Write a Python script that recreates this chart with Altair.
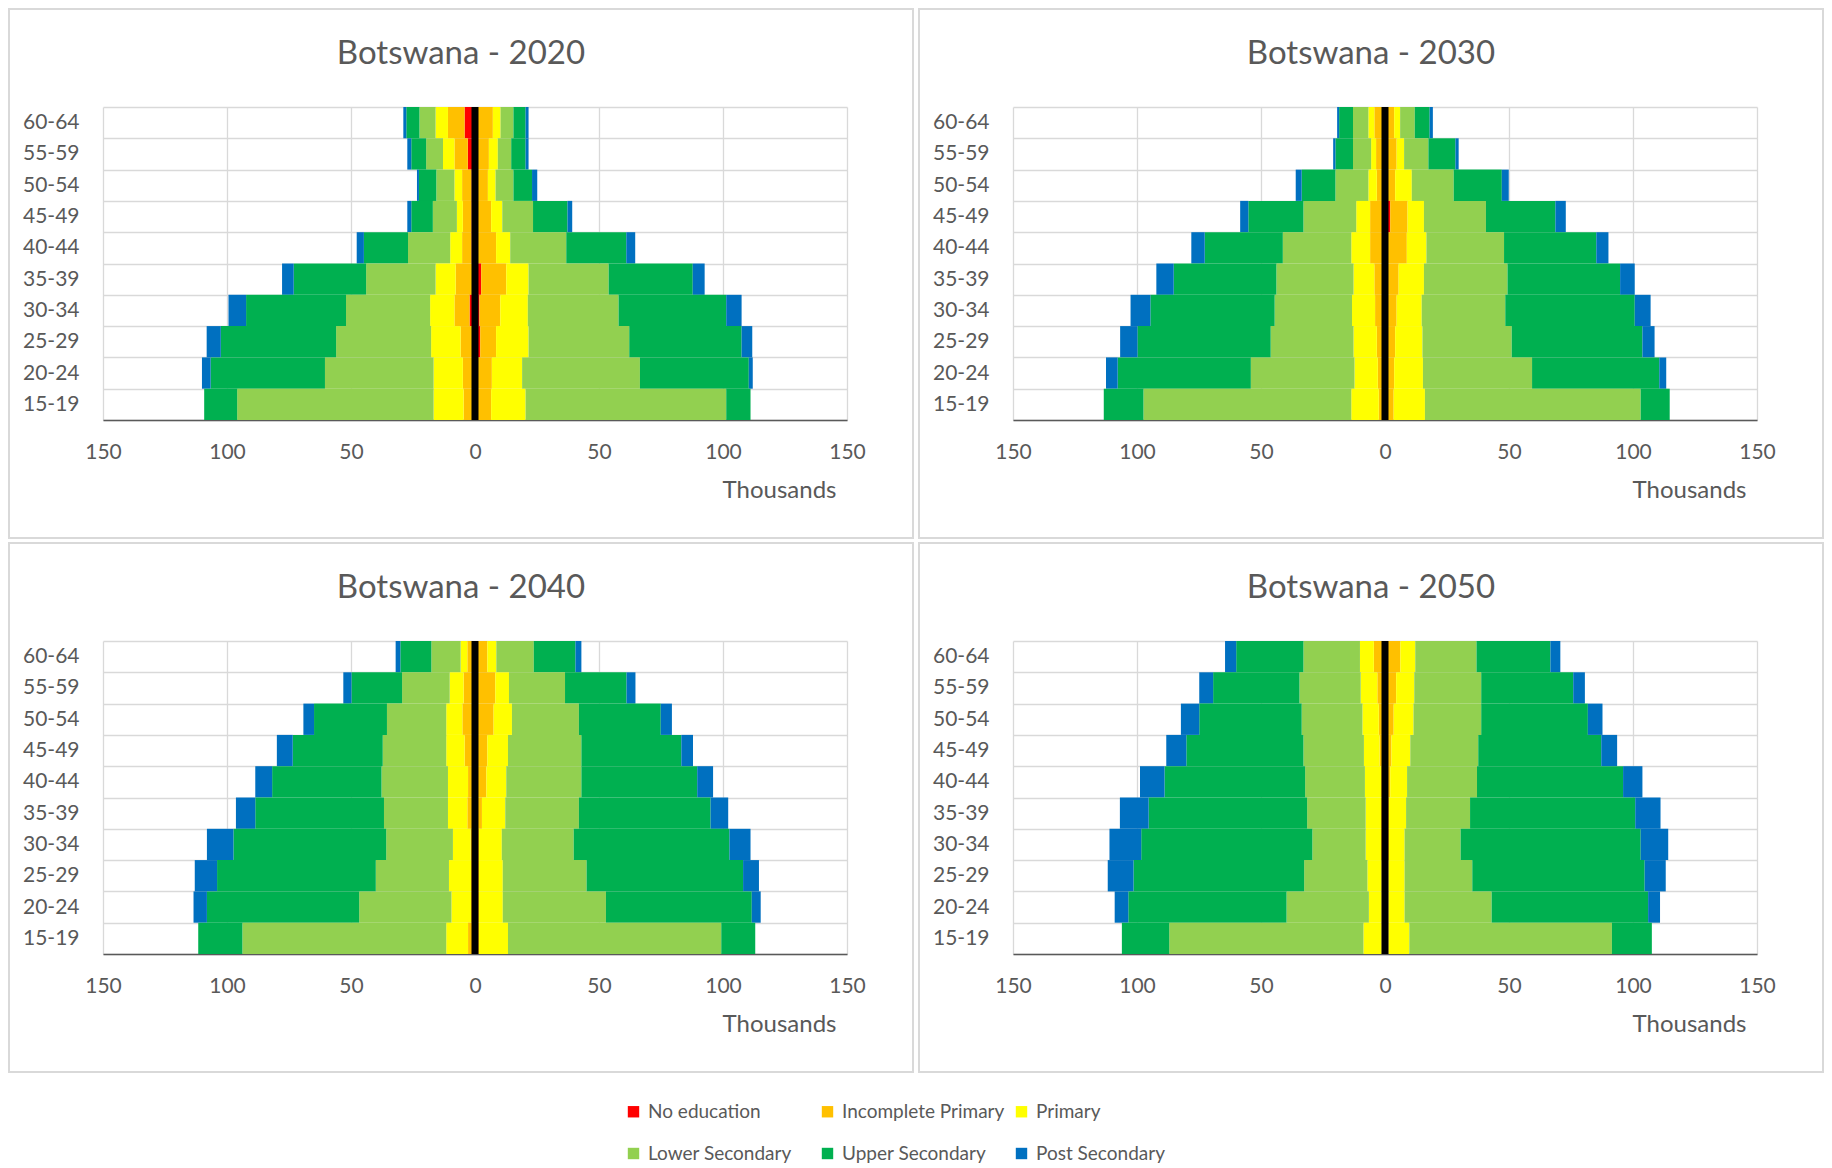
import altair as alt
import pandas as pd

AGES = ["60-64", "55-59", "50-54", "45-49", "40-44", "35-39", "30-34", "25-29", "20-24", "15-19"]
LEVELS = ["No education", "Incomplete Primary", "Primary", "Lower Secondary", "Upper Secondary", "Post Secondary"]
COLORS = ["#FF0000", "#FFC000", "#FFFF00", "#92D050", "#00B050", "#0070C0"]
YEARS = [2020, 2030, 2040, 2050]
TICKS = [-150, -100, -50, 0, 50, 100, 150]

# thousands, rows follow AGES, columns follow LEVELS
MALE_2020 = [
    [4.2, 6.7, 5.0, 6.5, 5.3, 1.2],
    [2.9, 5.4, 4.6, 6.8, 6.0, 1.6],
    [1.4, 3.8, 3.1, 7.3, 7.0, 0.8],
    [1.4, 3.5, 2.4, 9.7, 8.7, 1.6],
    [1.4, 3.8, 4.8, 17.0, 17.8, 2.9],
    [1.2, 6.6, 8.1, 28.0, 29.2, 4.7],
    [2.2, 6.1, 9.8, 33.9, 40.3, 7.1],
    [1.2, 4.6, 11.9, 38.3, 46.5, 5.7],
    [1.2, 3.7, 11.8, 43.8, 46.1, 3.5],
    [1.0, 3.6, 12.1, 79.2, 13.3, 0.0],
]
FEMALE_2020 = [
    [0.8, 6.4, 3.1, 5.2, 4.9, 1.2],
    [0.8, 4.8, 3.6, 5.4, 5.8, 1.2],
    [0.8, 4.4, 3.1, 7.2, 7.5, 2.1],
    [0.8, 5.7, 4.5, 12.4, 13.9, 1.9],
    [0.8, 7.7, 5.7, 22.6, 24.2, 3.6],
    [2.5, 10.1, 9.0, 32.3, 33.9, 4.8],
    [1.8, 8.4, 11.1, 36.6, 43.4, 6.2],
    [2.1, 6.4, 13.1, 40.6, 45.3, 4.3],
    [1.0, 5.8, 12.2, 47.5, 43.9, 1.6],
    [1.0, 5.5, 13.9, 80.9, 9.8, 0.0],
]
MALE_2030 = [
    [1.0, 3.3, 2.4, 6.2, 5.6, 0.8],
    [0.8, 2.8, 2.0, 7.3, 7.1, 0.9],
    [0.8, 2.5, 3.4, 13.3, 13.6, 2.4],
    [1.0, 5.0, 5.6, 21.3, 22.2, 3.3],
    [1.0, 5.0, 7.6, 27.6, 31.5, 5.4],
    [1.0, 3.3, 8.4, 31.1, 41.4, 7.0],
    [1.0, 3.0, 9.3, 31.2, 50.1, 8.0],
    [0.8, 2.5, 9.4, 33.4, 53.7, 7.0],
    [0.8, 2.1, 9.4, 41.8, 53.7, 4.7],
    [0.8, 1.7, 11.1, 83.8, 16.0, 0.0],
]
FEMALE_2030 = [
    [0.8, 2.9, 2.4, 5.9, 6.0, 1.3],
    [0.8, 3.9, 3.0, 9.8, 10.9, 1.3],
    [0.8, 3.3, 6.7, 16.9, 19.4, 2.8],
    [2.1, 7.0, 6.6, 25.0, 28.0, 4.2],
    [1.0, 7.8, 7.9, 31.3, 37.2, 4.9],
    [1.0, 4.5, 10.2, 33.7, 45.4, 5.9],
    [1.0, 3.7, 10.1, 33.7, 52.2, 6.4],
    [0.8, 3.3, 11.0, 36.0, 52.7, 4.9],
    [0.8, 2.9, 11.6, 44.0, 51.3, 2.8],
    [0.8, 2.7, 12.6, 87.0, 11.7, 0.0],
]
MALE_2040 = [
    [0.8, 2.3, 2.7, 11.8, 12.5, 1.9],
    [0.8, 3.8, 5.6, 19.2, 20.4, 3.3],
    [0.8, 4.3, 6.5, 23.9, 29.4, 4.3],
    [0.8, 3.4, 7.4, 25.6, 36.3, 6.4],
    [0.8, 2.0, 8.1, 26.8, 44.1, 6.8],
    [0.8, 2.3, 7.8, 25.8, 51.9, 7.8],
    [0.6, 1.2, 7.1, 26.9, 61.6, 10.7],
    [0.6, 1.0, 8.9, 29.5, 64.0, 9.0],
    [0.6, 1.0, 7.9, 37.2, 61.4, 5.4],
    [0.6, 2.2, 8.8, 82.2, 17.8, 0.0],
]
FEMALE_2040 = [
    [0.8, 4.2, 3.6, 15.1, 16.8, 2.4],
    [0.8, 7.4, 5.5, 22.6, 24.8, 3.6],
    [0.8, 6.7, 7.4, 27.0, 33.0, 4.5],
    [0.8, 4.2, 8.3, 29.6, 40.3, 4.7],
    [0.8, 3.8, 8.0, 30.3, 46.7, 6.4],
    [0.8, 2.0, 9.4, 29.7, 53.1, 7.1],
    [0.6, 1.0, 9.2, 29.0, 62.8, 8.5],
    [0.6, 1.0, 9.6, 33.8, 63.1, 6.4],
    [0.6, 1.0, 9.6, 41.6, 58.8, 3.6],
    [0.6, 1.0, 11.7, 86.0, 13.7, 0.0],
]
MALE_2050 = [
    [0.8, 3.7, 5.6, 22.8, 27.1, 4.5],
    [0.8, 2.3, 6.7, 24.7, 34.8, 5.6],
    [0.8, 1.7, 6.6, 24.5, 41.3, 7.4],
    [0.8, 1.4, 6.3, 24.4, 47.2, 8.1],
    [0.6, 1.0, 6.5, 24.1, 56.7, 9.9],
    [0.6, 1.0, 6.2, 23.6, 63.9, 11.6],
    [0.6, 1.0, 6.2, 21.5, 69.0, 12.8],
    [0.6, 0.8, 5.7, 25.5, 68.8, 10.4],
    [0.6, 0.8, 5.1, 33.2, 63.8, 5.5],
    [0.6, 0.8, 7.3, 78.3, 19.1, 0.0],
]
FEMALE_2050 = [
    [0.8, 5.4, 6.0, 24.7, 29.8, 4.0],
    [0.8, 3.7, 7.3, 27.0, 37.1, 4.7],
    [0.8, 2.7, 8.0, 27.3, 43.0, 5.9],
    [0.8, 1.8, 7.6, 27.4, 49.6, 6.4],
    [0.6, 1.5, 6.8, 28.2, 58.9, 7.8],
    [0.6, 1.0, 6.9, 25.8, 66.6, 10.2],
    [0.6, 1.0, 6.3, 22.6, 72.6, 11.1],
    [0.6, 0.8, 6.5, 27.3, 69.5, 8.5],
    [0.6, 0.8, 6.5, 35.1, 63.1, 4.8],
    [0.6, 0.8, 8.4, 81.7, 16.1, 0.0],
]

DATA = {
    2020: (MALE_2020, FEMALE_2020),
    2030: (MALE_2030, FEMALE_2030),
    2040: (MALE_2040, FEMALE_2040),
    2050: (MALE_2050, FEMALE_2050),
}

rows = []
for year, (male, female) in DATA.items():
    for sign, table in ((-1, male), (1, female)):
        for ai, age in enumerate(AGES):
            for li, level in enumerate(LEVELS):
                rows.append({"year": year, "age": age, "level": level,
                             "idx": li, "value": sign * table[ai][li]})
df = pd.DataFrame(rows)

W, H = 744, 313
GRID = "#d9d9d9"
TEXT = "#595959"
FONT = "Lato"
BOX_L, BOX_R, BOX_T, BOX_B = -94, W + 66, -98, H + 118


def panel(year, first):
    box = alt.Chart(pd.DataFrame({"b": [1]})).mark_rect(
        fillOpacity=0, stroke=GRID, strokeWidth=2
    ).encode(
        x=alt.value(BOX_L), x2=alt.value(BOX_R),
        y=alt.value(BOX_T), y2=alt.value(BOX_B),
    )
    legend = alt.Legend(
        title=None, orient="none", legendX=521, legendY=995,
        direction="horizontal", columns=3, symbolType="square", symbolSize=130,
        symbolStrokeWidth=0, labelFontSize=19, labelFont=FONT, labelColor=TEXT,
        labelOffset=5, labelLimit=400, gridAlign="all", columnPadding=7,
        rowPadding=22, padding=0,
    )
    bars = alt.Chart(df[df.year == year]).mark_bar().encode(
        x=alt.X("value:Q", stack="zero",
                scale=alt.Scale(domain=[-150, 150], nice=False),
                axis=alt.Axis(values=TICKS, labelExpr="abs(datum.value)",
                              title="Thousands", titleAnchor="end", titleAlign="right",
                              titleX=W - 11, titleY=77, titleBaseline="alphabetic",
                              titleFontSize=24, titleFontWeight="normal",
                              titleColor=TEXT, titleFont=FONT,
                              labelFontSize=21, labelFont=FONT, labelColor=TEXT,
                              labelPadding=21, ticks=False, tickSize=0,
                              labelFlush=False, labelOverlap=False,
                              domainColor=TEXT, domainWidth=1.6,
                              grid=True, gridColor=GRID, gridWidth=1.3)),
        y=alt.Y("age:N", sort=AGES,
                scale=alt.Scale(paddingInner=0, paddingOuter=0),
                axis=alt.Axis(title=None, ticks=False, tickSize=0, domain=False,
                              labelPadding=24, labelFontSize=21, labelFont=FONT,
                              labelColor=TEXT, grid=True, tickBand="extent",
                              gridColor=GRID, gridWidth=1.3)),
        color=alt.Color("level:N", scale=alt.Scale(domain=LEVELS, range=COLORS),
                        legend=legend if first else None),
        order=alt.Order("idx:Q"),
    )
    center = alt.Chart(pd.DataFrame({"c": [0]})).mark_rule(
        color="black", strokeWidth=7
    ).encode(x=alt.datum(0))
    title = alt.Chart(pd.DataFrame({"t": [f"Botswana - {year}"]})).mark_text(
        font=FONT, fontSize=33, color=TEXT, align="center", baseline="alphabetic"
    ).encode(text="t:N", x=alt.value((BOX_L + BOX_R) / 2), y=alt.value(-43))
    return alt.layer(box, bars, center, title).properties(width=W, height=H)


top = alt.hconcat(panel(2020, True), panel(2030, False), spacing=4)
bottom = alt.hconcat(panel(2040, False), panel(2050, False), spacing=4)
chart = alt.vconcat(top, bottom, spacing=3).properties(padding=0).configure_view(stroke=None)

chart.save("out.html", embed_options={"renderer": "svg", "actions": False})
